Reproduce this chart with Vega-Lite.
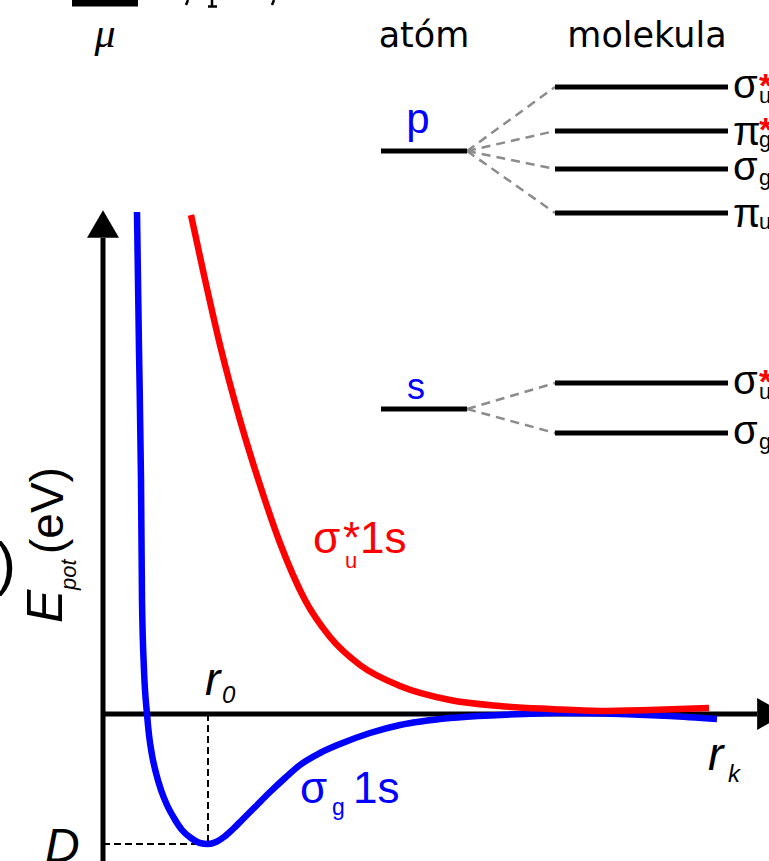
{
  "$schema": "https://vega.github.io/schema/vega-lite/v6.json",
  "width": 769,
  "height": 861,
  "autosize": {"type": "none"},
  "padding": 0,
  "background": "white",
  "config": {"view": {"stroke": null}},
  "datasets": {
    "axes": [
      {"x": 0, "y": 4.76, "x2": 0, "y2": -1.6},
      {"x": 0, "y": 0, "x2": 6.54, "y2": 0}
    ],
    "arrowUp": [{"x": 0, "y": 4.90}],
    "arrowRight": [{"x": 6.68, "y": 0}],
    "guides": [
      {"x": 1.05, "y": 0, "x2": 1.05, "y2": -1.30},
      {"x": 0, "y": -1.30, "x2": 1.05, "y2": -1.30}
    ],
    "curves": [
      {"series": "sigma_g 1s", "x": 0.34, "y": 5.02},
      {"series": "sigma_g 1s", "x": 0.36, "y": 3.64},
      {"series": "sigma_g 1s", "x": 0.38, "y": 2.34},
      {"series": "sigma_g 1s", "x": 0.39, "y": 1.14},
      {"series": "sigma_g 1s", "x": 0.41, "y": 0.44},
      {"series": "sigma_g 1s", "x": 0.44, "y": 0.0},
      {"series": "sigma_g 1s", "x": 0.46, "y": -0.21},
      {"series": "sigma_g 1s", "x": 0.49, "y": -0.41},
      {"series": "sigma_g 1s", "x": 0.53, "y": -0.59},
      {"series": "sigma_g 1s", "x": 0.58, "y": -0.76},
      {"series": "sigma_g 1s", "x": 0.64, "y": -0.91},
      {"series": "sigma_g 1s", "x": 0.71, "y": -1.04},
      {"series": "sigma_g 1s", "x": 0.79, "y": -1.16},
      {"series": "sigma_g 1s", "x": 0.88, "y": -1.24},
      {"series": "sigma_g 1s", "x": 0.97, "y": -1.29},
      {"series": "sigma_g 1s", "x": 1.05, "y": -1.30},
      {"series": "sigma_g 1s", "x": 1.13, "y": -1.28},
      {"series": "sigma_g 1s", "x": 1.21, "y": -1.23},
      {"series": "sigma_g 1s", "x": 1.30, "y": -1.15},
      {"series": "sigma_g 1s", "x": 1.40, "y": -1.05},
      {"series": "sigma_g 1s", "x": 1.52, "y": -0.93},
      {"series": "sigma_g 1s", "x": 1.67, "y": -0.78},
      {"series": "sigma_g 1s", "x": 1.82, "y": -0.64},
      {"series": "sigma_g 1s", "x": 1.97, "y": -0.51},
      {"series": "sigma_g 1s", "x": 2.17, "y": -0.39},
      {"series": "sigma_g 1s", "x": 2.37, "y": -0.30},
      {"series": "sigma_g 1s", "x": 2.67, "y": -0.19},
      {"series": "sigma_g 1s", "x": 2.97, "y": -0.11},
      {"series": "sigma_g 1s", "x": 3.47, "y": -0.04},
      {"series": "sigma_g 1s", "x": 3.97, "y": -0.01},
      {"series": "sigma_g 1s", "x": 4.57, "y": 0.01},
      {"series": "sigma_g 1s", "x": 5.17, "y": 0.0},
      {"series": "sigma_g 1s", "x": 5.67, "y": -0.02},
      {"series": "sigma_g 1s", "x": 6.14, "y": -0.05},
      {"series": "sigma_u* 1s", "x": 0.88, "y": 4.99},
      {"series": "sigma_u* 1s", "x": 1.01, "y": 4.39},
      {"series": "sigma_u* 1s", "x": 1.17, "y": 3.69},
      {"series": "sigma_u* 1s", "x": 1.37, "y": 2.94},
      {"series": "sigma_u* 1s", "x": 1.57, "y": 2.29},
      {"series": "sigma_u* 1s", "x": 1.77, "y": 1.71},
      {"series": "sigma_u* 1s", "x": 2.02, "y": 1.14},
      {"series": "sigma_u* 1s", "x": 2.27, "y": 0.77},
      {"series": "sigma_u* 1s", "x": 2.57, "y": 0.49},
      {"series": "sigma_u* 1s", "x": 2.97, "y": 0.28},
      {"series": "sigma_u* 1s", "x": 3.47, "y": 0.14},
      {"series": "sigma_u* 1s", "x": 3.97, "y": 0.08},
      {"series": "sigma_u* 1s", "x": 4.47, "y": 0.05},
      {"series": "sigma_u* 1s", "x": 4.97, "y": 0.03},
      {"series": "sigma_u* 1s", "x": 5.47, "y": 0.04},
      {"series": "sigma_u* 1s", "x": 6.06, "y": 0.06}
    ],
    "levels": [
      {"kind": "atom", "orbital": "p", "x": 2.78, "x2": 3.64, "y": 5.63},
      {"kind": "atom", "orbital": "s", "x": 2.78, "x2": 3.64, "y": 3.05},
      {"kind": "mo", "orbital": "sigma_u* 2p", "x": 4.52, "x2": 6.25, "y": 6.27},
      {"kind": "mo", "orbital": "pi_g* 2p", "x": 4.52, "x2": 6.25, "y": 5.83},
      {"kind": "mo", "orbital": "sigma_g 2p", "x": 4.52, "x2": 6.25, "y": 5.45},
      {"kind": "mo", "orbital": "pi_u 2p", "x": 4.52, "x2": 6.25, "y": 5.01},
      {"kind": "mo", "orbital": "sigma_u* 2s", "x": 4.52, "x2": 6.25, "y": 3.31},
      {"kind": "mo", "orbital": "sigma_g 2s", "x": 4.52, "x2": 6.25, "y": 2.81}
    ],
    "links": [
      {"x": 3.64, "y": 5.63, "x2": 4.52, "y2": 6.27},
      {"x": 3.64, "y": 5.63, "x2": 4.52, "y2": 5.83},
      {"x": 3.64, "y": 5.63, "x2": 4.52, "y2": 5.45},
      {"x": 3.64, "y": 5.63, "x2": 4.52, "y2": 5.01},
      {"x": 3.64, "y": 3.05, "x2": 4.52, "y2": 3.31},
      {"x": 3.64, "y": 3.05, "x2": 4.52, "y2": 2.81}
    ],
    "topbar": [{"x": -0.31, "x2": 0.35, "y": 7.11, "y2": 7.11}],
    "fragments": [
      {"x": 0.85, "y": 7.14, "x2": 0.83, "y2": 7.09},
      {"x": 1.09, "y": 7.14, "x2": 1.09, "y2": 7.08},
      {"x": 1.05, "y": 7.075, "x2": 1.14, "y2": 7.075},
      {"x": 1.71, "y": 7.14, "x2": 1.69, "y2": 7.09}
    ],
    "labels": [
      {"role": "header", "x": 3.21, "y": 6.67, "text": "atóm"},
      {"role": "header", "x": 5.44, "y": 6.67, "text": "molekula"},
      {"role": "mu", "x": 0.02, "y": 6.67, "text": "μ"},
      {"role": "atomP", "x": 3.15, "y": 5.81, "text": "p"},
      {"role": "atomS", "x": 3.13, "y": 3.15, "text": "s"},
      {"role": "moMain", "x": 6.30, "y": 6.16, "text": "σ"},
      {"role": "moMain", "x": 6.30, "y": 5.69, "text": "π"},
      {"role": "moMain", "x": 6.30, "y": 5.34, "text": "σ"},
      {"role": "moMain", "x": 6.30, "y": 4.87, "text": "π"},
      {"role": "moMain", "x": 6.30, "y": 3.20, "text": "σ"},
      {"role": "moMain", "x": 6.30, "y": 2.70, "text": "σ"},
      {"role": "moSub", "x": 6.56, "y": 6.11, "text": "u"},
      {"role": "moSub", "x": 6.56, "y": 5.67, "text": "g"},
      {"role": "moSub", "x": 6.56, "y": 5.29, "text": "g"},
      {"role": "moSub", "x": 6.56, "y": 4.85, "text": "u"},
      {"role": "moSub", "x": 6.56, "y": 3.15, "text": "u"},
      {"role": "moSub", "x": 6.56, "y": 2.65, "text": "g"},
      {"role": "moStar", "x": 6.56, "y": 6.17, "text": "*"},
      {"role": "moStar", "x": 6.56, "y": 5.73, "text": "*"},
      {"role": "moStar", "x": 6.56, "y": 3.21, "text": "*"},
      {"role": "redBig", "x": 2.10, "y": 1.61, "text": "σ"},
      {"role": "redBig", "x": 2.40, "y": 1.61, "text": "*1s"},
      {"role": "redSub", "x": 2.42, "y": 1.46, "text": "u"},
      {"role": "blueBig", "x": 1.97, "y": -0.89, "text": "σ"},
      {"role": "blueBig", "x": 2.50, "y": -0.89, "text": "1s"},
      {"role": "blueSub", "x": 2.29, "y": -1.01, "text": "g"},
      {"role": "italBig", "x": 1.02, "y": 0.19, "text": "r"},
      {"role": "italBig", "x": 6.05, "y": -0.56, "text": "r"},
      {"role": "italD", "x": -0.58, "y": -1.48, "text": "D"},
      {"role": "italSub", "x": 1.19, "y": 0.11, "text": "0"},
      {"role": "italSub", "x": 6.25, "y": -0.68, "text": "k"},
      {"role": "yE", "x": -0.41, "y": 0.91, "text": "E"},
      {"role": "yPot", "x": -0.27, "y": 1.24, "text": "pot"},
      {"role": "yUnit", "x": -0.40, "y": 1.60, "text": "(eV)"},
      {"role": "paren", "x": -1.07, "y": 1.30, "text": ")"}
    ]
  },
  "encoding": {
    "x": {"field": "x", "type": "quantitative", "scale": {"domain": [-1.03, 6.66], "nice": false, "zero": false}, "axis": null},
    "y": {"field": "y", "type": "quantitative", "scale": {"domain": [-1.47, 7.14], "nice": false, "zero": false}, "axis": null}
  },
  "layer": [
    {"data": {"name": "topbar"}, "mark": {"type": "rule", "strokeWidth": 7, "color": "black"},
     "encoding": {"x2": {"field": "x2"}, "y2": {"field": "y2"}}},
    {"data": {"name": "fragments"}, "mark": {"type": "rule", "strokeWidth": 2.5, "color": "black"},
     "encoding": {"x2": {"field": "x2"}, "y2": {"field": "y2"}}},
    {"data": {"name": "guides"}, "mark": {"type": "rule", "strokeWidth": 2, "color": "black", "strokeDash": [7, 4]},
     "encoding": {"x2": {"field": "x2"}, "y2": {"field": "y2"}}},
    {"data": {"name": "axes"}, "mark": {"type": "rule", "strokeWidth": 5, "color": "black"},
     "encoding": {"x2": {"field": "x2"}, "y2": {"field": "y2"}}},
    {"data": {"name": "arrowUp"}, "mark": {"type": "point", "shape": "triangle-up", "size": 1024, "filled": true, "color": "black", "opacity": 1}},
    {"data": {"name": "arrowRight"}, "mark": {"type": "point", "shape": "triangle-right", "size": 1024, "filled": true, "color": "black", "opacity": 1}},
    {"data": {"name": "curves"}, "mark": {"type": "line", "strokeWidth": 6.5, "interpolate": "monotone"},
     "encoding": {"color": {"field": "series", "type": "nominal", "scale": {"domain": ["sigma_g 1s", "sigma_u* 1s"], "range": ["#0000ff", "#ff0000"]}, "legend": null}}},
    {"data": {"name": "links"}, "mark": {"type": "rule", "strokeWidth": 2.5, "color": "#8c8c8c", "strokeDash": [9, 6]},
     "encoding": {"x2": {"field": "x2"}, "y2": {"field": "y2"}}},
    {"data": {"name": "levels"}, "mark": {"type": "rule", "strokeWidth": 5, "color": "black"},
     "encoding": {"x2": {"field": "x2"}}},
    {"data": {"name": "labels"}, "transform": [{"filter": "datum.role == 'header'"}],
     "mark": {"type": "text", "font": "DejaVu Sans", "fontSize": 35, "align": "center", "baseline": "alphabetic", "color": "black"},
     "encoding": {"text": {"field": "text"}}},
    {"data": {"name": "labels"}, "transform": [{"filter": "datum.role == 'mu'"}],
     "mark": {"type": "text", "font": "Liberation Serif", "fontStyle": "italic", "fontSize": 42, "align": "center", "baseline": "alphabetic", "color": "black"},
     "encoding": {"text": {"field": "text"}}},
    {"data": {"name": "labels"}, "transform": [{"filter": "datum.role == 'atomP'"}],
     "mark": {"type": "text", "font": "Liberation Sans", "fontSize": 42, "align": "center", "baseline": "alphabetic", "color": "#0000ff"},
     "encoding": {"text": {"field": "text"}}},
    {"data": {"name": "labels"}, "transform": [{"filter": "datum.role == 'atomS'"}],
     "mark": {"type": "text", "font": "Liberation Sans", "fontSize": 36, "align": "center", "baseline": "alphabetic", "color": "#0000ff"},
     "encoding": {"text": {"field": "text"}}},
    {"data": {"name": "labels"}, "transform": [{"filter": "datum.role == 'moMain'"}],
     "mark": {"type": "text", "font": "Liberation Sans", "fontSize": 40, "align": "left", "baseline": "alphabetic", "color": "black"},
     "encoding": {"text": {"field": "text"}}},
    {"data": {"name": "labels"}, "transform": [{"filter": "datum.role == 'moSub'"}],
     "mark": {"type": "text", "font": "Liberation Sans", "fontSize": 22, "align": "left", "baseline": "alphabetic", "color": "black"},
     "encoding": {"text": {"field": "text"}}},
    {"data": {"name": "labels"}, "transform": [{"filter": "datum.role == 'moStar'"}],
     "mark": {"type": "text", "font": "Liberation Sans", "fontSize": 34, "fontWeight": "bold", "align": "left", "baseline": "alphabetic", "color": "#ff0000"},
     "encoding": {"text": {"field": "text"}}},
    {"data": {"name": "labels"}, "transform": [{"filter": "datum.role == 'redBig'"}],
     "mark": {"type": "text", "font": "Liberation Sans", "fontSize": 44, "align": "left", "baseline": "alphabetic", "color": "#ff0000"},
     "encoding": {"text": {"field": "text"}}},
    {"data": {"name": "labels"}, "transform": [{"filter": "datum.role == 'redSub'"}],
     "mark": {"type": "text", "font": "Liberation Sans", "fontSize": 22, "align": "left", "baseline": "alphabetic", "color": "#ff0000"},
     "encoding": {"text": {"field": "text"}}},
    {"data": {"name": "labels"}, "transform": [{"filter": "datum.role == 'blueBig'"}],
     "mark": {"type": "text", "font": "Liberation Sans", "fontSize": 44, "align": "left", "baseline": "alphabetic", "color": "#0000ff"},
     "encoding": {"text": {"field": "text"}}},
    {"data": {"name": "labels"}, "transform": [{"filter": "datum.role == 'blueSub'"}],
     "mark": {"type": "text", "font": "Liberation Sans", "fontSize": 23, "align": "left", "baseline": "alphabetic", "color": "#0000ff"},
     "encoding": {"text": {"field": "text"}}},
    {"data": {"name": "labels"}, "transform": [{"filter": "datum.role == 'italBig'"}],
     "mark": {"type": "text", "font": "Liberation Sans", "fontStyle": "italic", "fontSize": 46, "align": "left", "baseline": "alphabetic", "color": "black"},
     "encoding": {"text": {"field": "text"}}},
    {"data": {"name": "labels"}, "transform": [{"filter": "datum.role == 'italD'"}],
     "mark": {"type": "text", "font": "Liberation Sans", "fontStyle": "italic", "fontSize": 48, "align": "left", "baseline": "alphabetic", "color": "black"},
     "encoding": {"text": {"field": "text"}}},
    {"data": {"name": "labels"}, "transform": [{"filter": "datum.role == 'italSub'"}],
     "mark": {"type": "text", "font": "Liberation Sans", "fontStyle": "italic", "fontSize": 24, "align": "left", "baseline": "alphabetic", "color": "black"},
     "encoding": {"text": {"field": "text"}}},
    {"data": {"name": "labels"}, "transform": [{"filter": "datum.role == 'yE'"}],
     "mark": {"type": "text", "font": "Liberation Sans", "fontStyle": "italic", "fontSize": 50, "angle": 270, "align": "left", "baseline": "alphabetic", "color": "black"},
     "encoding": {"text": {"field": "text"}}},
    {"data": {"name": "labels"}, "transform": [{"filter": "datum.role == 'yPot'"}],
     "mark": {"type": "text", "font": "Liberation Sans", "fontStyle": "italic", "fontSize": 22, "angle": 270, "align": "left", "baseline": "alphabetic", "color": "black"},
     "encoding": {"text": {"field": "text"}}},
    {"data": {"name": "labels"}, "transform": [{"filter": "datum.role == 'yUnit'"}],
     "mark": {"type": "text", "font": "Liberation Sans", "fontSize": 46, "angle": 270, "align": "left", "baseline": "alphabetic", "color": "black"},
     "encoding": {"text": {"field": "text"}}},
    {"data": {"name": "labels"}, "transform": [{"filter": "datum.role == 'paren'"}],
     "mark": {"type": "text", "font": "Liberation Sans", "fontSize": 60, "align": "left", "baseline": "alphabetic", "color": "black"},
     "encoding": {"text": {"field": "text"}}}
  ]
}
